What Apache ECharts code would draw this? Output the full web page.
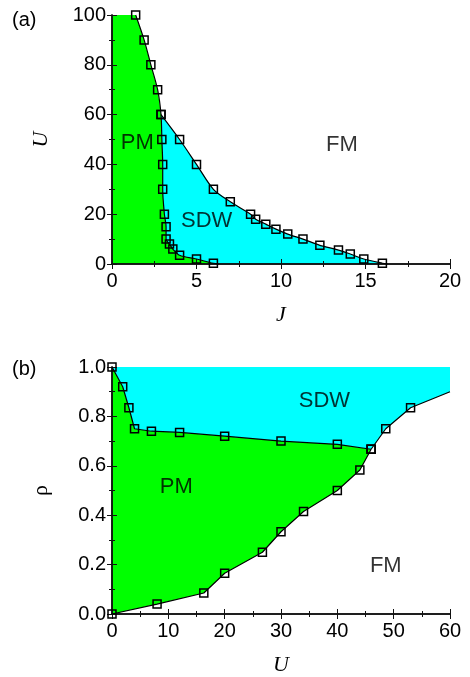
<!DOCTYPE html>
<html lang="en">
<head>
<meta charset="UTF-8">
<title>phase diagram</title>
<style>
  html, body { margin: 0; padding: 0; background: #fff; }
  #main { width: 470px; height: 677px; }
</style>
</head>
<body>
<div id="main"></div>
<script src="https://cdn.jsdelivr.net/npm/echarts@6/dist/echarts.min.js"></script>
<script>
// ---- panel (a): U vs J ----
var pmLineA = [[1.4,100],[1.9,90],[2.3,80],[2.7,70],[2.9,60],[2.95,50],[3.0,40],[3.0,30],[3.1,20],[3.2,15],[3.2,10],[3.4,8],[3.6,6],[4.0,3.5],[5.0,2],[6.0,0.3]];
var pmEndA = [6.3, 0];
var sdwLineA = [[2.9,60],[4,50],[5,40],[6,30],[7,25],[8.2,20],[8.5,18],[9.1,16],[9.7,14],[10.4,12],[11.3,10],[12.3,7.5],[13.4,5.6],[14.1,4],[14.9,2],[16,0.3]];
var sdwEndA = [16.3, 0];
var textA = [['PM', 1.5, 48.5], ['SDW', 5.6, 17.4], ['FM', 13.6, 47.8]];

// ---- panel (b): rho vs U ----
var pmSdwB = [[0,1.0],[1.9,0.92],[3,0.835],[4,0.75],[7,0.74],[12,0.735],[20,0.72],[30,0.70],[40,0.687],[46,0.667]];
var pmFmB = [[0,0],[8,0.04],[16.3,0.085],[20,0.165],[26.7,0.25],[30,0.333],[34,0.415],[40,0.5],[44,0.583],[46,0.667]];
var sdwFmB = [[46,0.667],[48.6,0.75],[53,0.835]];
var sdwEndB = [60, 0.9];
var textB = [['SDW', 37.7, 0.864], ['PM', 11.4, 0.515], ['FM', 48.6, 0.194]];

var GREEN = '#00ff00', CYAN = '#00ffff';
var sans = "'Liberation Sans', Arial, sans-serif";
var serif = "'Liberation Serif', 'Times New Roman', serif";

// polygons built from the boundary lines
var greenA = [[0,0],[0,100]].concat(pmLineA, [pmEndA]);
var cyanA = pmLineA.slice(4).concat([pmEndA, sdwEndA], sdwLineA.slice().reverse());
var greenB = pmSdwB.concat(pmFmB.slice().reverse());
var cyanB = pmSdwB.concat(sdwFmB.slice(1), [sdwEndB, [60,1]]);

function polySeries(xi, yi, pts, color) {
    return {
        type: 'custom', xAxisIndex: xi, yAxisIndex: yi, silent: true, z: 1,
        data: [pts[0]],
        renderItem: function (params, api) {
            return {
                type: 'polygon',
                shape: { points: pts.map(function (p) { return api.coord(p); }), smooth: 0 },
                style: { fill: color }
            };
        }
    };
}

function lineSeries(xi, yi, pts, end, smooth) {
    var data = pts.slice();
    if (end) data.push({ value: end, symbol: 'none' });
    return {
        type: 'line', xAxisIndex: xi, yAxisIndex: yi, z: 6, clip: false,
        data: data, symbol: 'rect', symbolSize: 8, smooth: smooth || false,
        lineStyle: { color: '#000', width: 1.2 },
        itemStyle: { color: 'rgba(0,0,0,0)', borderColor: '#000', borderWidth: 1.5 },
        emphasis: { disabled: true }, animation: false
    };
}

function textSeries(xi, yi, items) {
    return {
        type: 'scatter', xAxisIndex: xi, yAxisIndex: yi, z: 7, symbolSize: 1,
        itemStyle: { color: 'rgba(0,0,0,0)' },
        data: items.map(function (t) { return { name: t[0], value: [t[1], t[2]] }; }),
        label: { show: true, position: 'inside', formatter: '{b}', color: '#000', fontSize: 22, fontFamily: sans }
    };
}

var axLine = { show: true, lineStyle: { color: '#111', width: 1.5 } };
var tick = { show: true, inside: true, length: 5, lineStyle: { color: '#111' } };
var minor = { show: true, splitNumber: 2, length: 3, lineStyle: { color: '#111' } };

function xAx(grid, max, interval, pos, name) {
    return {
        type: 'value', gridIndex: grid, min: 0, max: max, interval: interval, position: pos, z: 5,
        axisLine: axLine, axisTick: tick, minorTick: minor, splitLine: { show: false },
        axisLabel: { show: pos === 'bottom', margin: 7, color: '#000', fontSize: 20, fontFamily: sans },
        name: name, nameLocation: 'middle', nameGap: 40,
        nameTextStyle: { fontSize: 22, fontStyle: 'italic', fontFamily: serif, color: '#000' }
    };
}
function yAx(grid, max, interval, pos, name, fmt) {
    return {
        type: 'value', gridIndex: grid, min: 0, max: max, interval: interval, position: pos, z: 5,
        axisLine: axLine, axisTick: tick, minorTick: minor, splitLine: { show: false },
        axisLabel: { show: pos === 'left', margin: 6, color: '#000', fontSize: 20, fontFamily: sans, formatter: fmt },
        name: name, nameLocation: 'middle', nameGap: 60, nameRotate: 90,
        nameTextStyle: { fontSize: 22, fontStyle: name === 'U' ? 'italic' : 'normal', fontFamily: serif, color: '#000' }
    };
}

var myChart = echarts.init(document.getElementById('main'));
var option = {
    backgroundColor: '#fff',
    animation: false,
    grid: [
        { left: 112, right: 20, top: 15, height: 249 },
        { left: 112, right: 20, top: 367, height: 247 }
    ],
    xAxis: [
        xAx(0, 20, 5, 'bottom', 'J'),
        xAx(0, 20, 5, 'top', ''),
        xAx(1, 60, 10, 'bottom', 'U'),
        xAx(1, 60, 10, 'top', '')
    ],
    yAxis: [
        yAx(0, 100, 20, 'left', 'U'),
        yAx(0, 100, 20, 'right', ''),
        yAx(1, 1, 0.2, 'left', 'ρ', function (v) { return v.toFixed(1); }),
        yAx(1, 1, 0.2, 'right', '')
    ],
    graphic: [
        { type: 'text', left: 12, top: 10, style: { text: '(a)', fontSize: 20, fontFamily: sans, fill: '#000' } },
        { type: 'text', left: 12, top: 359, style: { text: '(b)', fontSize: 20, fontFamily: sans, fill: '#000' } }
    ],
    series: [
        polySeries(0, 0, greenA, GREEN),
        polySeries(0, 0, cyanA, CYAN),
        lineSeries(0, 0, pmLineA, pmEndA, 0.3),
        lineSeries(0, 0, sdwLineA, sdwEndA, 0.3),
        textSeries(0, 0, textA),
        polySeries(2, 2, greenB, GREEN),
        polySeries(2, 2, cyanB, CYAN),
        lineSeries(2, 2, pmSdwB, null),
        lineSeries(2, 2, pmFmB, null),
        lineSeries(2, 2, sdwFmB, sdwEndB),
        textSeries(2, 2, textB)
    ]
};
myChart.setOption(option);
</script>
</body>
</html>
